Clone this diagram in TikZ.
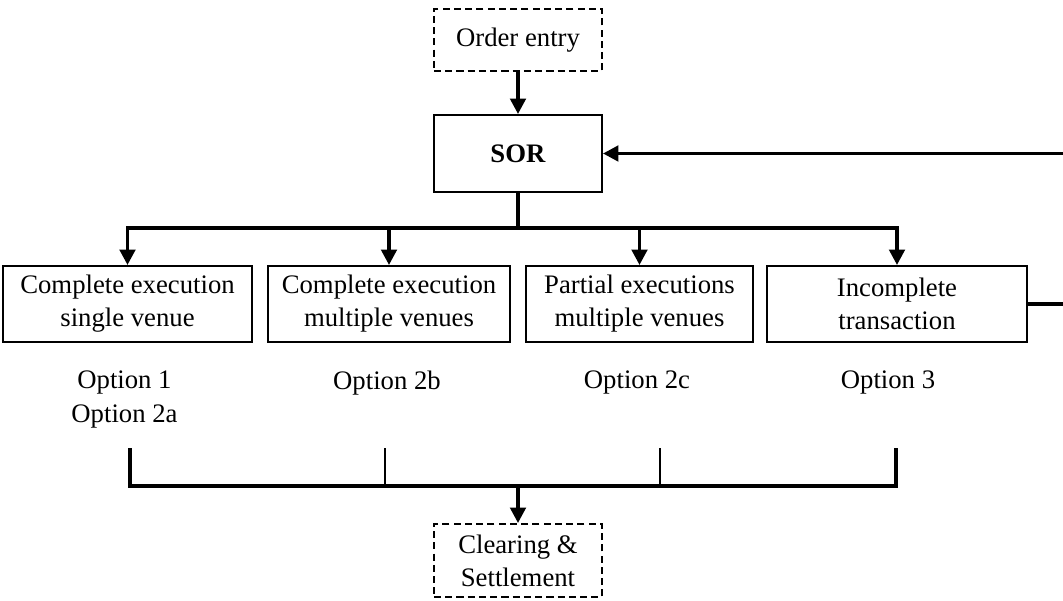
\documentclass[tikz,border=0pt]{standalone}
\usepackage{fontspec}
\setmainfont{Liberation Serif}
\usetikzlibrary{arrows.meta}
\begin{document}
\begin{tikzpicture}[font=\fontsize{19}{23.5}\selectfont,
  box/.style={draw, line width=1.4pt, align=center, inner sep=0pt, minimum height=1.9cm},
  dbox/.style={box, dash pattern=on 5pt off 3pt},
  link/.style={line width=2.5pt},
  arr/.style={link, -{Triangle[length=11pt,width=11pt]}},
  opt/.style={align=center, anchor=north, inner sep=0pt}]
\useasboundingbox (0,0) rectangle (26.575,15);
\node[dbox, minimum width=4.2cm, minimum height=1.55cm] (entry) at (12.95,14) {Order entry};
\node[box, minimum width=4.2cm, minimum height=1.925cm] (sor) at (12.95,11.1625) {\textbf{SOR}};
\node[box, minimum width=6.225cm] (v1) at (3.1875,7.4) {Complete execution\\single venue};
\node[box, minimum width=6.05cm] (v2) at (9.725,7.4) {Complete execution\\multiple venues};
\node[box, minimum width=5.675cm] (v3) at (15.9875,7.4) {Partial executions\\multiple venues};
\node[box, minimum width=6.5cm] (v4) at (22.425,7.4) {Incomplete\\transaction};
\node[opt] (o1) at (3.1125,5.725) {Option 1\\Option 2a};
\node[opt] (o2) at (9.675,5.725) {Option 2b};
\node[opt] (o3) at (15.925,5.725) {Option 2c};
\node[opt] (o4) at (22.2,5.725) {Option 3};
\node[dbox, minimum width=4.2cm, minimum height=1.825cm] (clear) at (12.95,0.9875) {Clearing \&\\Settlement};
% connectors
\coordinate (split) at (12.95,9.3);
\coordinate (fb) at (26.575,11.1625);
\coordinate (fbl) at (26.575,7.4);
\draw[arr] (entry) -- (sor);
\draw[link] (sor) -- (split);
\foreach \b in {v1,v2,v3,v4}
  \draw[arr] (split) -| (\b.north);
\draw[arr] (fb) -- (sor);
\draw[link] (v4) -- (fbl);
% bracket
\coordinate (b1) at (3.25,3.8);
\coordinate (b2) at (9.625,3.8);
\coordinate (b3) at (16.5,3.8);
\coordinate (b4) at (22.4,3.8);
\coordinate (join) at (12.95,2.85);
\draw[link] (b1) |- (join) -| (b4);
\draw[line width=1.4pt] (b2) -- (b2 |- join) (b3) -- (b3 |- join);
\draw[arr] (join) -- (clear);
\end{tikzpicture}
\end{document}
